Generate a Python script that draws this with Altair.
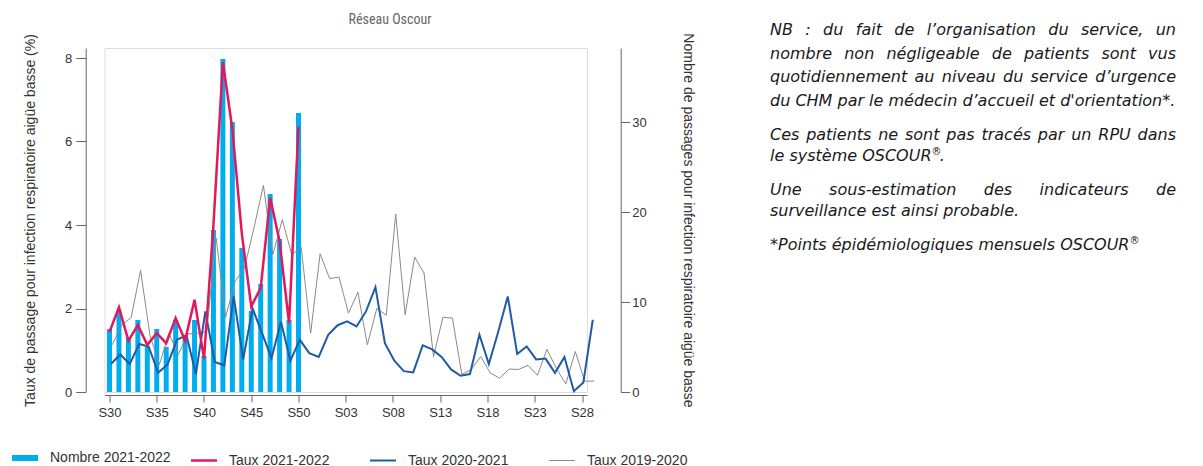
import altair as alt
import pandas as pd

# ---------------- data ----------------
WEEK_LABELS = ["S30", "S31", "S32", "S33", "S34", "S35", "S36", "S37", "S38", "S39",
               "S40", "S41", "S42", "S43", "S44", "S45", "S46", "S47", "S48", "S49",
               "S50", "S51", "S52", "S01", "S02", "S03", "S04", "S05", "S06", "S07",
               "S08", "S09", "S10", "S11", "S12", "S13", "S14", "S15", "S16", "S17",
               "S18", "S19", "S20", "S21", "S22", "S23", "S24", "S25", "S26", "S27",
               "S28", "S29"]
TICK_INDEX = [0, 5, 10, 15, 20, 25, 30, 35, 40, 45, 50]

NOMBRE_2122 = [7, 9, 6, 8, 5, 7, 5, 8, 6, 8, 4, 18, 37, 30, 16, 9, 12, 22, 17, 8, 31]
TAUX_2122 = [1.44, 2.03, 1.23, 1.60, 1.13, 1.41, 1.17, 1.77, 1.23, 2.21, 0.80, 4.0,
             7.90, 6.3, 3.8, 2.05, 2.49, 4.65, 3.61, 1.65, 6.36]
TAUX_2021 = [0.67, 0.90, 0.67, 1.15, 1.09, 0.46, 0.66, 1.25, 1.36, 0.43, 1.93, 0.72,
             0.64, 2.29, 0.78, 2.00, 1.41, 0.81, 1.68, 0.75, 1.25, 0.93, 0.84, 1.37,
             1.60, 1.69, 1.57, 1.93, 2.51, 1.17, 0.75, 0.50, 0.47, 1.12, 1.02, 0.84,
             0.54, 0.39, 0.43, 1.37, 0.67, 1.45, 2.29, 0.91, 1.09, 0.78, 0.80, 0.46,
             0.84, 0.02, 0.23, 1.73]
TAUX_1920 = [1.13, 1.60, 1.78, 2.91, 1.35, 0.66, 1.40, 0.90, 1.39, 1.41, 1.45, 3.69,
             1.79, 2.65, 2.97, 3.93, 4.95, 3.29, 4.13, 3.29, 3.47, 1.41, 3.31, 2.72,
             2.75, 1.89, 2.39, 1.13, 2.00, 1.84, 4.26, 1.85, 3.23, 2.85, 0.85, 1.79,
             1.77, 0.42, 0.54, 0.85, 0.46, 0.33, 0.55, 0.54, 0.64, 0.40, 1.02, 0.57,
             0.19, 0.97, 0.26, 0.26]

SERIES = ["Nombre 2021-2022", "Taux 2021-2022", "Taux 2020-2021", "Taux 2019-2020"]
# weekday shift (days) of each season relative to the 2021-2022 weeks
DAY_SHIFT = {"Taux 2021-2022": 0, "Taux 2020-2021": 1, "Taux 2019-2020": 2}
COLORS = ["#00AEEF", "#E3185C", "#1F5BA6", "#8A8A8A"]
LINE_WIDTH = {"Taux 2021-2022": 2.5, "Taux 2020-2021": 2, "Taux 2019-2020": 1}

NOTE_LINES = [
    ("NB : du fait de l’organisation du service, un", True),
    ("nombre non négligeable de patients sont vus", True),
    ("quotidiennement au niveau du service d’urgence", True),
    ("du CHM par le médecin d’accueil et d'orientation*.", False),
    ("Ces patients ne sont pas tracés par un RPU dans", True),
    ("le système OSCOUR®.", False),
    ("Une sous-estimation des indicateurs de", True),
    ("surveillance est ainsi probable.", False),
    ("*Points épidémiologiques mensuels OSCOUR®", False),
]

# ---------------- layout ----------------
PX_PER_WEEK = 9.65
X_MAX = 50
W = X_MAX * PX_PER_WEEK
H = 344
PLOT_X, PLOT_Y = 104.5, 48          # page position of the plot origin
PAD_L, PAD_T = PLOT_X - 8, PLOT_Y - 8
CANVAS_W, CANVAS_H = 1180, 458

FONT = "Liberation Sans, Arial, sans-serif"
NOTE_FONT = "DejaVu Sans"
NOTE_SIZE = 16
NOTE_LEFT, NOTE_RIGHT = 770, 1176
NOTE_BASELINES = [35, 58.5, 82, 106, 140, 161, 194.5, 216, 250]

# DejaVu Sans advance widths (em) for justification
DJV = {" ": .318, "a": .613, "b": .635, "c": .550, "d": .635, "e": .615, "f": .352,
       "g": .635, "h": .634, "i": .278, "j": .278, "k": .579, "l": .278, "m": .974,
       "n": .634, "o": .612, "p": .635, "q": .635, "r": .411, "s": .521, "t": .392,
       "u": .634, "v": .592, "w": .818, "x": .592, "y": .592, "z": .525,
       "A": .684, "B": .686, "C": .698, "D": .770, "E": .632, "F": .575, "G": .775,
       "H": .752, "I": .295, "M": .863, "N": .748, "O": .787, "P": .603, "R": .695,
       "S": .635, "T": .611, "U": .732, "V": .684, ",": .318, ".": .318, ":": .337,
       "*": .500, "'": .275, "’": .318, "-": .361, "é": .615, "è": .615, "ü": .634,
       "®": .838}


def tw(s, size):
    return sum(DJV.get(c, 0.6) for c in s) * size


tokens = []
for (text, justified), base in zip(NOTE_LINES, NOTE_BASELINES):
    if justified:
        words = text.split(" ")
        widths = [tw(w, NOTE_SIZE) for w in words]
        gap = (NOTE_RIGHT - NOTE_LEFT - sum(widths)) / (len(words) - 1)
        x = NOTE_LEFT
        for w_, wd in zip(words, widths):
            tokens.append({"t": w_, "px": x - PLOT_X, "py": base - PLOT_Y, "fs": NOTE_SIZE})
            x += wd + gap
    else:
        x = NOTE_LEFT
        for k, seg in enumerate(text.split("®")):
            if k > 0:
                tokens.append({"t": "®", "px": x - PLOT_X, "py": base - 6 - PLOT_Y, "fs": 10})
                x += tw("®", 10)
            if seg:
                tokens.append({"t": seg, "px": x - PLOT_X, "py": base - PLOT_Y, "fs": NOTE_SIZE})
                x += tw(seg, NOTE_SIZE)
notes_df = pd.DataFrame(tokens)

# ---------------- tables ----------------
bars_df = pd.DataFrame({"idx": range(len(NOMBRE_2122)), "nombre": NOMBRE_2122})


def season(values, name):
    return pd.DataFrame({
        "x": [i + DAY_SHIFT[name] / 7 for i in range(len(values))],
        "value": values,
        "series": name,
    })


gray_df = season(TAUX_1920, "Taux 2019-2020")
blue_df = season(TAUX_2021, "Taux 2020-2021")
red_df = season(TAUX_2122, "Taux 2021-2022")

# ---------------- scales / axes ----------------
label_array = "[" + ",".join("'%s'" % w for w in WEEK_LABELS) + "]"
XS = alt.Scale(domain=[0, X_MAX], nice=False, zero=False)
XA = alt.Axis(values=TICK_INDEX, labelExpr=label_array + "[datum.value]", title=None,
              offset=3, tickSize=7, labelPadding=4, grid=False, labelFontSize=13,
              labelColor="#333333", domainColor="#666666", tickColor="#666666",
              labelFont=FONT, labelFlush=False)

YL = alt.Scale(domain=[0, H / 41.75], nice=False, zero=True)
YLA = alt.Axis(orient="left", values=[0, 2, 4, 6, 8], grid=False, offset=18.8,
               title="Taux de passage pour infection respiratoire aigüe basse (%)",
               tickSize=10, labelPadding=4, titlePadding=27, labelFontSize=13,
               titleFontSize=14, titleFontWeight="normal", titleColor="#333333",
               labelColor="#333333", domainColor="#666666", tickColor="#666666",
               labelFont=FONT, titleFont=FONT)

YR = alt.Scale(domain=[0, H / 9.0], nice=False, zero=True)
YRA = alt.Axis(orient="right", values=[0, 10, 20, 30], grid=False, offset=33.7,
               title="Nombre de passages pour infection respiratoire aigüe basse",
               tickSize=9, labelPadding=2, titlePadding=34, labelFontSize=13,
               titleFontSize=14, titleFontWeight="normal", titleColor="#333333",
               labelColor="#333333", domainColor="#666666", tickColor="#666666",
               labelFont=FONT, titleFont=FONT)

CS = alt.Scale(domain=SERIES, range=COLORS)
LEG = alt.Legend(
    title=None, orient="none", legendX=18 - PLOT_X, legendY=403,
    direction="horizontal", columns=4, gridAlign="all", columnPadding=15,
    symbolType="stroke", symbolSize=676, labelOffset=18, padding=0,
    symbolStrokeWidth=alt.ExprRef(
        expr="datum.value == 'Nombre 2021-2022' ? 6 : datum.value == 'Taux 2021-2022' ? 2.5 : datum.value == 'Taux 2020-2021' ? 2 : 1"),
    labelFontSize=14, labelColor="#333333", labelFont=FONT,
)

bars = alt.Chart(bars_df).mark_bar(size=5, color=COLORS[0]).encode(
    x=alt.X("idx:Q", scale=XS, axis=XA),
    y=alt.Y("nombre:Q", scale=YR, axis=YRA),
)


def line(df, name):
    return alt.Chart(df).mark_line(strokeWidth=LINE_WIDTH[name], clip=False).encode(
        x=alt.X("x:Q", scale=XS, axis=XA),
        y=alt.Y("value:Q", scale=YL, axis=YLA),
        color=alt.Color("series:N", scale=CS, legend=LEG),
    )


lines = alt.layer(line(gray_df, "Taux 2019-2020"),
                  line(blue_df, "Taux 2020-2021"),
                  line(red_df, "Taux 2021-2022"))

notes = alt.Chart(notes_df).mark_text(
    font=NOTE_FONT, fontStyle="italic", align="left", baseline="alphabetic",
    color="#1a1a1a", clip=False,
).encode(
    x=alt.X("px:Q", scale=None, axis=None),
    y=alt.Y("py:Q", scale=None, axis=None),
    text="t:N",
    size=alt.Size("fs:Q", scale=None, legend=None),
)

chart = alt.layer(bars, lines, notes).resolve_scale(y="independent").properties(
    width=W, height=H,
    autosize=alt.AutoSizeParams(type="none"),
    padding={"left": PAD_L, "top": PAD_T,
             "right": CANVAS_W - PAD_L - W, "bottom": CANVAS_H - PAD_T - H},
    title=alt.TitleParams("Réseau Oscour", anchor="middle", frame="group",
                          dx=390 - (PLOT_X + W / 2), offset=-18.5, baseline="bottom",
                          fontSize=14, fontWeight="normal", color="#666666",
                          font="Liberation Sans Narrow, Roboto Condensed, Liberation Sans"),
).configure_view(stroke=None).configure(background="white")

chart.save("out.html", embed_options={"renderer": "svg", "actions": False})
